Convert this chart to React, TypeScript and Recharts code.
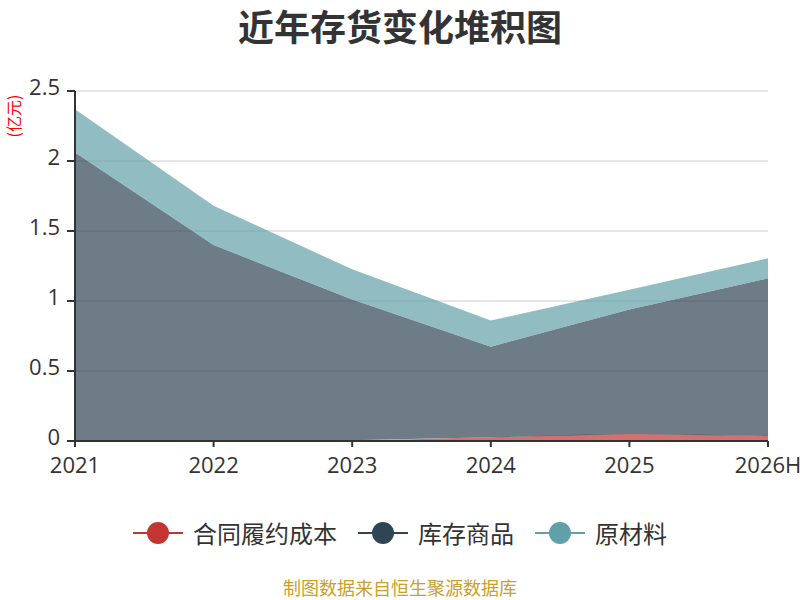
import React from "react";
import {
  Area,
  AreaChart,
  CartesianGrid,
  XAxis,
  YAxis,
} from "recharts";

// Values in 亿元.
const YEARS = ["2021", "2022", "2023", "2024", "2025", "2026H"];
const CONTRACT_COST = [0, 0, 0.005, 0.026, 0.05, 0.036];
const FINISHED_GOODS = [2.06, 1.4, 1.005, 0.648, 0.89, 1.126];
const RAW_MATERIALS = [0.31, 0.28, 0.216, 0.186, 0.14, 0.143];
const Y_TICKS = [0, 0.5, 1, 1.5, 2, 2.5];

const SERIES = [
  { key: "contract", name: "合同履约成本", color: "#c23531" },
  { key: "goods", name: "库存商品", color: "#2f4554" },
  { key: "raw", name: "原材料", color: "#61a0a8" },
];

const rows = YEARS.map((year, i) => ({
  year,
  contract: CONTRACT_COST[i],
  goods: FINISHED_GOODS[i],
  raw: RAW_MATERIALS[i],
}));

const FONT = '"Noto Sans CJK SC", "Noto Sans", sans-serif';
const NUM_FONT = '"Open Sans", "Noto Sans", sans-serif';

export default function App() {
  return (
    <div
      style={{
        position: "absolute",
        left: 0,
        top: 0,
        width: 800,
        height: 600,
        background: "#fff",
        fontFamily: FONT,
      }}
    >
      <div
        style={{
          position: "absolute",
          top: 4,
          width: 800,
          textAlign: "center",
          fontSize: 36,
          lineHeight: "42px",
          fontWeight: "bold",
          color: "#333",
        }}
      >
        近年存货变化堆积图
      </div>
      <div
        style={{
          position: "absolute",
          left: 13,
          top: 116,
          transform: "translate(-50%, -50%) rotate(-90deg)",
          fontSize: 16,
          lineHeight: 1,
          color: "#ff0000",
          whiteSpace: "nowrap",
        }}
      >
        (亿元)
      </div>
      <AreaChart
        width={800}
        height={600}
        data={rows}
        margin={{ top: 91, right: 32, bottom: 129, left: 15 }}
        style={{ fontFamily: NUM_FONT }}
      >
        <CartesianGrid vertical={false} stroke="#ccc" />
        <XAxis
          dataKey="year"
          interval={0}
          tick={{ fill: "#333", fontSize: 22, dy: 8 }}
          axisLine={{ stroke: "#333", strokeWidth: 2 }}
          tickLine={{ stroke: "#333", strokeWidth: 2 }}
          tickSize={6}
          height={30}
        />
        <YAxis
          domain={[0, 2.5]}
          ticks={Y_TICKS}
          width={60}
          tick={{ fill: "#333", fontSize: 22, dx: -5, dy: -4 }}
          axisLine={{ stroke: "#333", strokeWidth: 2 }}
          tickLine={{ stroke: "#333", strokeWidth: 2 }}
          tickSize={8}
        />
        {SERIES.map((s) => (
          <Area
            key={s.key}
            dataKey={s.key}
            name={s.name}
            stackId="stock"
            type={s.key === "contract" ? "monotone" : "linear"}
            stroke="none"
            fill={s.color}
            fillOpacity={0.7}
            dot={false}
            activeDot={false}
            isAnimationActive={false}
          />
        ))}
      </AreaChart>
      <div
        style={{
          position: "absolute",
          top: 518,
          left: 0,
          width: 800,
          display: "flex",
          justifyContent: "center",
          alignItems: "center",
          fontSize: 24,
          lineHeight: "30px",
          color: "#333",
        }}
      >
        {SERIES.map((s, i) => (
          <div
            key={s.key}
            style={{
              display: "flex",
              alignItems: "center",
              marginLeft: i === 0 ? 0 : 21,
            }}
          >
            <svg width={50} height={30} style={{ marginRight: 10 }}>
              <line x1={0} y1={15} x2={50} y2={15} stroke={s.color} strokeWidth={2} />
              <circle cx={25} cy={15} r={11} fill={s.color} />
            </svg>
            <span>{s.name}</span>
          </div>
        ))}
      </div>
      <div
        style={{
          position: "absolute",
          top: 577,
          width: 800,
          textAlign: "center",
          fontSize: 18,
          lineHeight: "20px",
          color: "#c9a02b",
        }}
      >
        制图数据来自恒生聚源数据库
      </div>
    </div>
  );
}
